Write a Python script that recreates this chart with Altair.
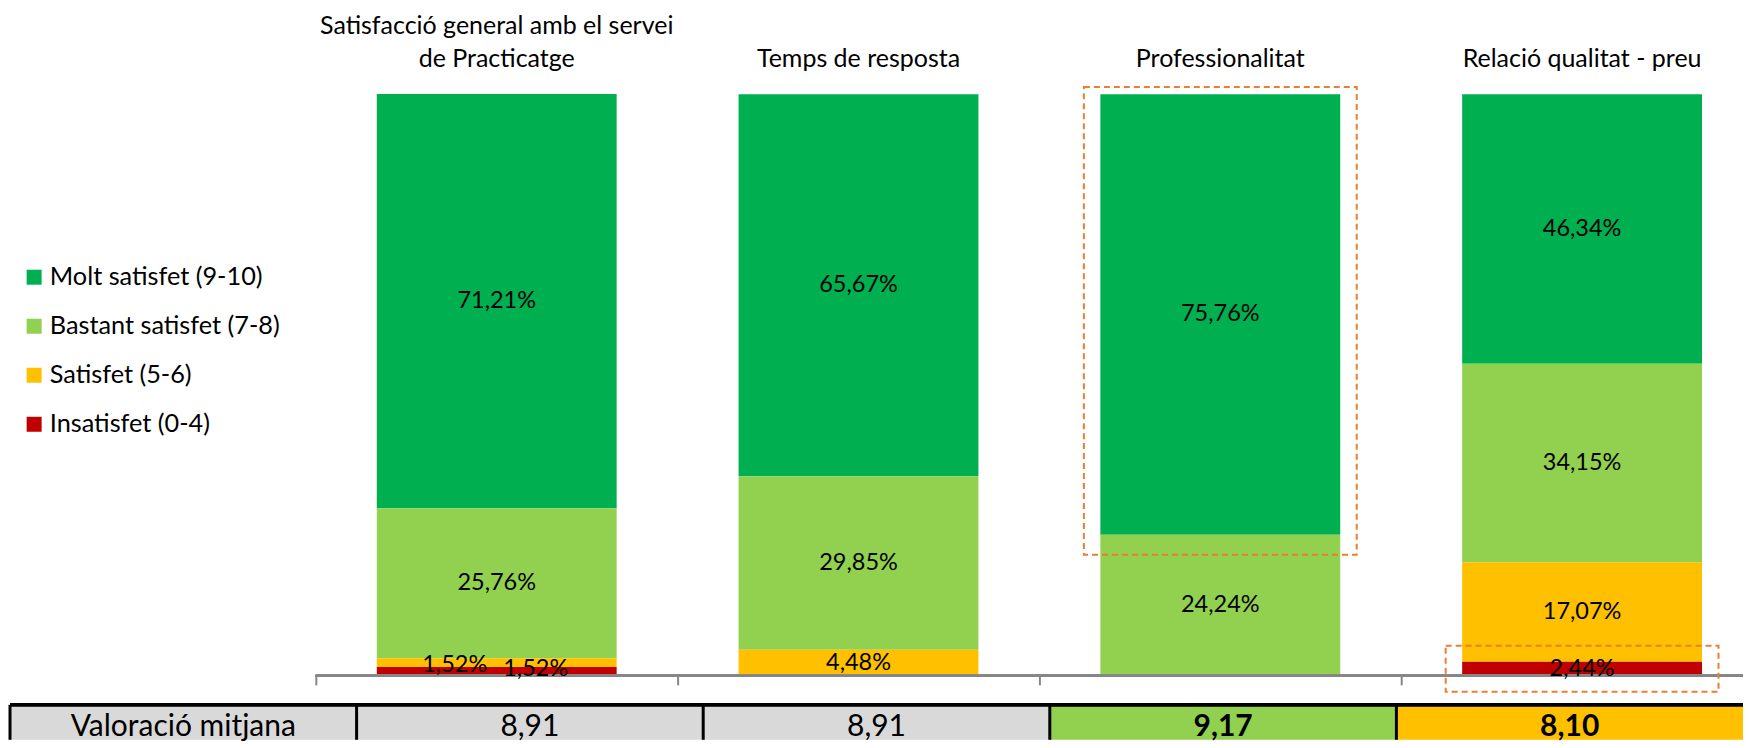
import altair as alt
import pandas as pd

# ---------------- data ----------------
categories = [
    "Satisfacció general amb el servei de Practicatge",
    "Temps de resposta",
    "Professionalitat",
    "Relació qualitat - preu",
]
title_upper = ["Satisfacció general amb el servei", "", "", ""]
title_lower = ["de Practicatge", "Temps de resposta", "Professionalitat", "Relació qualitat - preu"]

levels = ["Molt satisfet (9-10)", "Bastant satisfet (7-8)", "Satisfet (5-6)", "Insatisfet (0-4)"]
level_colors = ["#00B050", "#92D050", "#FFC000", "#C00000"]

molt_satisfet = [71.21, 65.67, 75.76, 46.34]
bastant_satisfet = [25.76, 29.85, 24.24, 34.15]
satisfet = [1.52, 4.48, 0.0, 17.07]
insatisfet = [1.52, 0.0, 0.0, 2.44]

table_header = "Valoració mitjana"
valoracio_mitjana = [8.91, 8.91, 9.17, 8.10]

# highlighted zones (dashed boxes), in % units of the y scale
highlight_categories = ["Professionalitat", "Relació qualitat - preu"]
highlight_top = [101.25, 5.15]
highlight_bottom = [20.8, -2.75]

# ---------------- tables ----------------
series = [molt_satisfet, bastant_satisfet, satisfet, insatisfet]
rows = []
for li, (lvl, vals) in enumerate(zip(levels, series)):
    for cat, v in zip(categories, vals):
        rows.append({"cat": cat, "level": lvl, "value": v, "ord": len(levels) - 1 - li})
df = pd.DataFrame(rows)

titles_df = pd.DataFrame({"cat": categories, "upper": title_upper, "lower": title_lower})
hl_df = pd.DataFrame({"cat": highlight_categories, "top": highlight_top, "bottom": highlight_bottom})

vmax, vmin = max(valoracio_mitjana), min(valoracio_mitjana)
status = ["max" if v == vmax else "min" if v == vmin else "normal" for v in valoracio_mitjana]
table_cols = [table_header] + categories
table_df = pd.DataFrame({
    "col": table_cols,
    "label": [table_header] + [f"{v:.2f}".replace(".", ",") for v in valoracio_mitjana],
    "status": ["label"] + status,
})

FONT = "Lato"
W = 1734
H = 582
TH = 35

xscale = alt.Scale(domain=categories, range=[306, 1754], paddingInner=0, paddingOuter=0)
yscale = alt.Scale(domain=[0, 100], nice=False, zero=True)


def xcat(**kw):
    return alt.X("cat:N", scale=xscale, sort=categories, **kw)


x_axis = alt.Axis(
    orient="bottom", labels=False, title=None, grid=False, domain=False,
    tickColor="#868686", tickWidth=2, tickSize=9, bandPosition=0,
)

base = alt.Chart(df)

bars = base.mark_bar(width=alt.RelativeBandSize(240 / 362)).encode(
    x=xcat(axis=x_axis),
    y=alt.Y("value:Q", stack="zero", scale=yscale, axis=None),
    color=alt.Color(
        "level:N",
        scale=alt.Scale(domain=levels, range=level_colors),
        legend=alt.Legend(
            title=None, orient="none", legendX=11.5, legendY=170.5,
            symbolType="square", symbolSize=225, symbolStrokeWidth=0,
            labelFont=FONT, labelFontSize=25.3, labelColor="black", labelLimit=0,
            labelOffset=3, rowPadding=23.05, padding=0,
        ),
    ),
    order=alt.Order("ord:Q"),
)

baseline = alt.Chart(df).mark_rule(color="#868686", strokeWidth=2).encode(
    x=alt.X(datum=categories[0], scale=xscale, bandPosition=0),
    x2=alt.value(W),
    y=alt.Y(datum=0, scale=yscale),
)

stacked = base.transform_filter("datum.value > 0").transform_stack(
    stack="value", groupby=["cat"], as_=["v0", "v1"], sort=[alt.SortField("ord", order="ascending")]
).transform_calculate(
    mid="(datum.v0 + datum.v1) / 2",
    lab="replace(format(datum.value, '.2f'), '.', ',') + '%'",
)

text_style = dict(font=FONT, fontSize=23.5, color="black", baseline="middle", align="center")
lab_enc = dict(x=xcat(), y=alt.Y("mid:Q", scale=yscale), text="lab:N")

labels_main = stacked.transform_filter("datum.value >= 2").mark_text(**text_style).encode(**lab_enc)
labels_small_a = stacked.transform_filter(
    f"datum.value < 2 && datum.level == '{levels[2]}'"
).mark_text(dx=-42, dy=2, **text_style).encode(**lab_enc)
labels_small_b = stacked.transform_filter(
    f"datum.value < 2 && datum.level == '{levels[3]}'"
).mark_text(dx=39, dy=-2, **text_style).encode(**lab_enc)

highlights = alt.Chart(hl_df).mark_bar(
    width=273, fillOpacity=0, stroke="#ED7D31", strokeWidth=2, strokeDash=[6, 4]
).encode(
    x=xcat(),
    y=alt.Y("top:Q", scale=yscale),
    y2="bottom:Q",
)

title_style = dict(font=FONT, fontSize=25, color="black", baseline="middle", align="center")
titles_lower = alt.Chart(titles_df).mark_text(**title_style).encode(
    x=xcat(), y=alt.value(-35.3), text="lower:N"
)
titles_upper = alt.Chart(titles_df).transform_filter("datum.upper != ''").mark_text(**title_style).encode(
    x=xcat(), y=alt.value(-68.3), text="upper:N"
)

top = alt.layer(
    bars, baseline, highlights, labels_main, labels_small_a, labels_small_b, titles_upper, titles_lower
).properties(width=W, height=H)

# ---------------- table ----------------
tscale = alt.Scale(domain=table_cols, paddingInner=0, paddingOuter=0)
tx = alt.X("col:N", sort=table_cols, scale=tscale, axis=None)
tbase = alt.Chart(table_df)
cells = tbase.mark_rect().encode(
    x=tx,
    y=alt.value(0),
    y2=alt.value(TH),
    fill=alt.Fill(
        "status:N",
        scale=alt.Scale(domain=["label", "normal", "max", "min"],
                        range=["#D9D9D9", "#D9D9D9", "#92D050", "#FFC000"]),
        legend=None,
    ),
)
vlines = tbase.mark_rule(color="black", strokeWidth=3).encode(
    x=alt.X("col:N", sort=table_cols, scale=tscale, axis=None, bandPosition=0),
    y=alt.value(0),
    y2=alt.value(TH),
)
hline = tbase.mark_rule(color="black", strokeWidth=3).encode(
    x=alt.value(0), x2=alt.value(W), y=alt.value(0)
)
cell_text = tbase.transform_filter(
    "datum.status == 'label' || datum.status == 'normal'"
).mark_text(font=FONT, fontSize=30, color="black", baseline="middle", align="center").encode(
    x=tx, y=alt.value(22), text="label:N"
)
cell_text_bold = tbase.transform_filter(
    "datum.status == 'max' || datum.status == 'min'"
).mark_text(font=FONT, fontSize=30, fontWeight="bold", color="black", baseline="middle", align="center").encode(
    x=tx, y=alt.value(22), text="label:N"
)
table = alt.layer(cells, vlines, hline, cell_text, cell_text_bold).properties(width=W, height=TH)

chart = alt.vconcat(top, table, spacing=29, bounds="flush").resolve_scale(
    x="independent", y="independent", color="independent"
).properties(
    padding={"left": 0, "top": 5, "right": 0, "bottom": 0}
).configure_view(stroke=None)

chart.save("out.html", embed_options={"renderer": "svg", "actions": False})
